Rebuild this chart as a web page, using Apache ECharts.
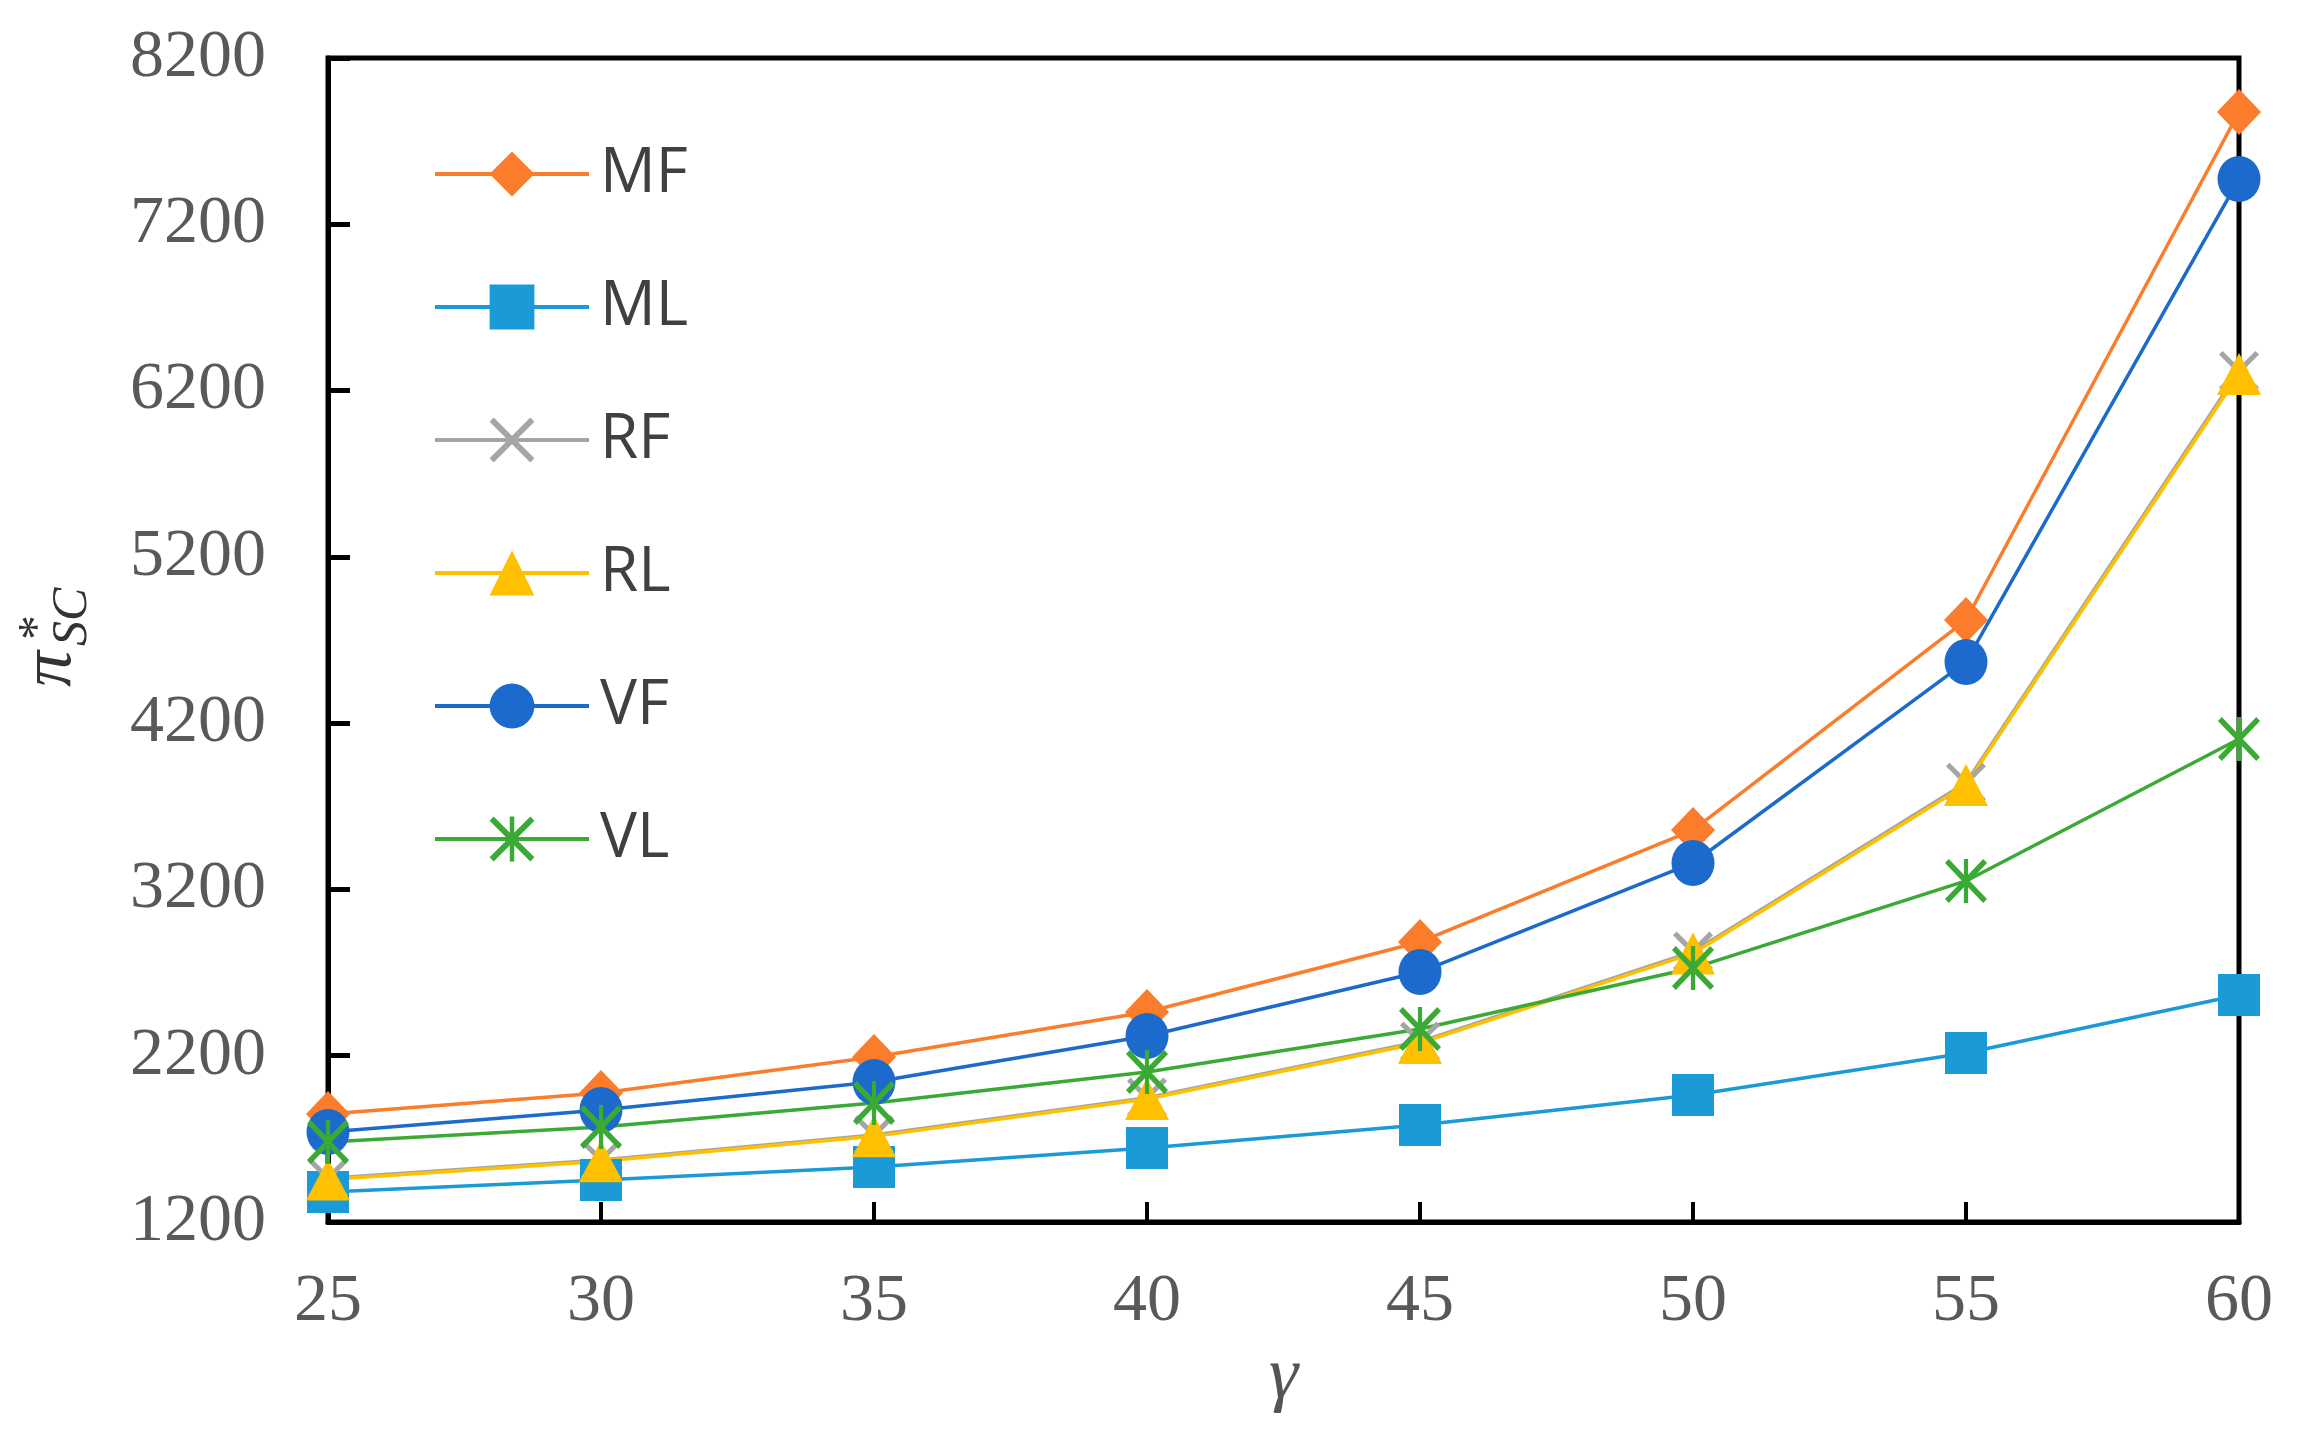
<!DOCTYPE html>
<html>
<head>
<meta charset="utf-8">
<script src="https://cdn.jsdelivr.net/npm/echarts@6/dist/echarts.min.js"></script>
<style>
html,body{margin:0;padding:0;background:#fff;}
#chart{width:2307px;height:1441px;}
</style>
</head>
<body>
<div id="chart"></div>
<script>
// ---- data ----
var gamma = [25, 30, 35, 40, 45, 50, 55, 60];
var seriesNames = ['MF', 'ML', 'RF', 'RL', 'VF', 'VL'];
var MF = [1850, 1976, 2192, 2463, 2884, 3557, 4820, 7875];
var ML = [1380, 1453, 1531, 1645, 1783, 1964, 2216, 2565];
var RF = [1463, 1573, 1723, 1948, 2285, 2826, 3842, 6318];
var RL = [1455, 1565, 1715, 1940, 2276, 2815, 3828, 6300];
var VF = [1741, 1874, 2042, 2319, 2703, 3359, 4568, 7472];
var VL = [1681, 1771, 1916, 2102, 2361, 2727, 3251, 4105];
var yTicks = [1200, 2200, 3200, 4200, 5200, 6200, 7200, 8200];
var xTicks = [25, 30, 35, 40, 45, 50, 55, 60];

var values = {MF: MF, ML: ML, RF: RF, RL: RL, VF: VF, VL: VL};
var colors = {MF: '#FB7C2A', ML: '#1A9AD6', RF: '#A5A5A5', RL: '#FFC000', VF: '#1C6ACB', VL: '#3AAA35'};

var crossPath = 'path://M0,9 L9,0 L100,91 L91,100 Z M91,0 L100,9 L9,100 L0,91 Z';
var starPath = 'path://M0,9 L9,0 L100,91 L91,100 Z M91,0 L100,9 L9,100 L0,91 Z M45,0 L55,0 L55,100 L45,100 Z';
var symbols = {MF: 'diamond', ML: 'rect', RF: crossPath, RL: 'triangle', VF: 'circle', VL: starPath};
var sizes = {MF: [44, 46], ML: [42, 42], RF: [40, 40], RL: [44, 42], VF: [43, 46], VL: [42, 44]};

function pairs(arr) {
  return gamma.map(function (g, i) { return [g, arr[i]]; });
}

var series = seriesNames.map(function (n) {
  return {
    name: n,
    type: 'line',
    data: pairs(values[n]),
    symbol: symbols[n],
    symbolSize: sizes[n],
    showAllSymbol: true,
    color: colors[n],
    itemStyle: {color: colors[n]},
    lineStyle: {color: colors[n], width: 3.5},
    emphasis: {disabled: true},
    animation: false
  };
});

var chart = echarts.init(document.getElementById('chart'));
chart.setOption({
  backgroundColor: '#ffffff',
  animation: false,
  grid: {
    left: 328, right: 68, top: 58, bottom: 219,
    show: true, borderColor: '#000', borderWidth: 5, backgroundColor: 'transparent'
  },
  legend: {
    orient: 'vertical',
    left: 428,
    top: 138,
    itemWidth: 154,
    itemHeight: 56,
    itemGap: 71,
    selectedMode: false,
    data: seriesNames,
    lineStyle: {width: 4},
    textStyle: {
      fontFamily: 'Open Sans',
      fontSize: 62,
      color: '#404040',
      padding: [0, 0, 0, 6]
    }
  },
  xAxis: {
    type: 'value',
    min: 25, max: 60, interval: 5,
    name: 'γ',
    nameLocation: 'middle',
    nameGap: 100,
    nameTextStyle: {fontFamily: 'Liberation Serif', fontStyle: 'italic', fontSize: 74, color: '#555'},
    axisLine: {show: true, lineStyle: {color: '#000', width: 5}},
    axisTick: {show: true, inside: true, length: 20, lineStyle: {color: '#000', width: 4}},
    axisLabel: {
      margin: 46,
      fontFamily: 'Liberation Serif', fontSize: 68, color: '#595959',
      formatter: function (v) { return xTicks.indexOf(v) >= 0 ? String(v) : ''; }
    },
    splitLine: {show: false}
  },
  yAxis: {
    type: 'value',
    min: 1200, max: 8200, interval: 1000,
    axisLine: {show: true, lineStyle: {color: '#000', width: 5}},
    axisTick: {show: true, inside: true, length: 22, lineStyle: {color: '#000', width: 5}},
    axisLabel: {
      margin: 62,
      fontFamily: 'Liberation Serif', fontSize: 68, color: '#595959',
      formatter: function (v) { return yTicks.indexOf(v) >= 0 ? String(v) : ''; }
    },
    splitLine: {show: false}
  },
  graphic: [{
    type: 'group',
    x: 70, y: 640,
    rotation: Math.PI / 2,
    children: [
      {type: 'text', x: -47, y: -19, style: {text: 'π', font: 'italic 72px "Liberation Serif"', fill: '#333', textAlign: 'left', textVerticalAlign: 'middle'}},
      {type: 'text', x: -6, y: 3, style: {text: 'SC', font: 'italic 50px "Liberation Serif"', fill: '#333', textAlign: 'left', textVerticalAlign: 'middle'}},
      {type: 'text', x: 0, y: -31, style: {text: '*', font: '50px "Liberation Serif"', fill: '#333', textAlign: 'left', textVerticalAlign: 'middle'}}
    ]
  }],
  series: series
});
</script>
</body>
</html>
